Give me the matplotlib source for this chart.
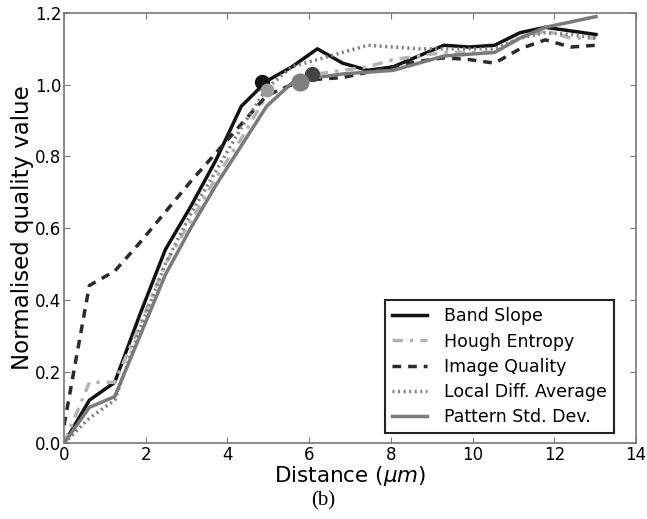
import numpy as np
import matplotlib
matplotlib.use('Agg')
import matplotlib.pyplot as plt

# ─── Data ──────────────────────────────────────────────────────────
distance = [0.0, 0.62, 1.24, 1.86, 2.48, 3.10, 3.72, 4.34, 4.96, 5.58, 6.20,
            6.82, 7.44, 8.06, 8.68, 9.30, 9.92, 10.54, 11.16, 11.78, 12.40, 13.02]

band_slope = [0.0, 0.12, 0.17, 0.36, 0.54, 0.66, 0.79, 0.94, 1.01, 1.05, 1.10,
              1.06, 1.04, 1.05, 1.08, 1.11, 1.105, 1.11, 1.145, 1.16, 1.15, 1.14]
hough_entropy = [0.0, 0.17, 0.17, 0.33, 0.50, 0.62, 0.74, 0.85, 0.97, 1.00, 1.03,
                 1.04, 1.05, 1.07, 1.08, 1.09, 1.09, 1.09, 1.13, 1.15, 1.13, 1.13]
image_quality = [0.05, 0.44, 0.48, 0.56, 0.645, 0.73, 0.81, 0.89, 0.97, 1.00, 1.015,
                 1.02, 1.035, 1.05, 1.065, 1.075, 1.07, 1.06, 1.10, 1.125, 1.105, 1.11]
local_diff = [0.0, 0.07, 0.12, 0.32, 0.50, 0.64, 0.76, 0.88, 0.99, 1.05, 1.07,
              1.09, 1.11, 1.105, 1.10, 1.10, 1.10, 1.10, 1.13, 1.145, 1.14, 1.13]
pattern_std = [0.0, 0.10, 0.13, 0.30, 0.47, 0.60, 0.72, 0.83, 0.94, 1.005, 1.02,
               1.03, 1.035, 1.04, 1.06, 1.08, 1.085, 1.09, 1.13, 1.16, 1.175, 1.19]

# threshold markers (x, y) per series
marker_x = [4.85, 4.97, 6.07, 5.78]
marker_y = [1.008, 0.985, 1.03, 1.008]

# ─── Plot ──────────────────────────────────────────────────────────
fig = plt.figure(figsize=(6.47, 5.19), dpi=100)
ax = fig.add_axes([0.099, 0.146, 0.884, 0.829])

styles = [
    ('Band Slope',          band_slope,    '#111111', '-'),
    ('Hough Entropy',       hough_entropy, '#b5b5b5', (0, (3, 2, 1, 2))),
    ('Image Quality',       image_quality, '#2a2a2a', (0, (2.5, 2))),
    ('Local Diff. Average', local_diff,    '#808080', (0, (0.6, 1.0))),
    ('Pattern Std. Dev.',   pattern_std,   '#7a7a7a', '-'),
]
for name, vals, col, ls in styles:
    ax.plot(distance, vals, color=col, linestyle=ls, linewidth=2.5, label=name)

ax.plot(marker_x[0], marker_y[0], 'o', color='#111111', markersize=10)
ax.plot(marker_x[1], marker_y[1], 'o', color='#9a9a9a', markersize=9)
ax.plot(marker_x[2], marker_y[2], 'o', color='#444444', markersize=10)
ax.plot(marker_x[3], marker_y[3], 'o', color='#7f7f7f', markersize=12)

ax.set_xlim(0, 14)
ax.set_ylim(0, 1.2)
ax.set_xticks(np.arange(0, 15, 2))
ax.set_yticks(np.arange(0, 1.21, 0.2))
ax.set_yticklabels(['%.1f' % v for v in np.arange(0, 1.21, 0.2)])
ax.tick_params(direction='in', top=True, right=True, labelsize=12, length=4,
               color='#777777', pad=2)
for s in ax.spines.values():
    s.set_color('#777777')
    s.set_linewidth(1.2)

ax.set_xlabel(r'Distance ($\mu m$)', fontsize=15.5, labelpad=0)
ax.set_ylabel('Normalised quality value', fontsize=16.5)
ax.yaxis.set_label_coords(-0.052, 0.5)

leg = ax.legend(loc='lower right', bbox_to_anchor=(0.961, 0.023),
                fontsize=12.5, fancybox=False, edgecolor='#222222',
                framealpha=1, handlelength=2.0, borderaxespad=0,
                labelspacing=0.42, handletextpad=1.0)
leg.get_frame().set_linewidth(1.5)

fig.text(0.5, 0.035, '(b)', ha='center', va='center', fontsize=15,
         family='Liberation Serif')

plt.savefig('out.png', dpi=100)
plt.close()
